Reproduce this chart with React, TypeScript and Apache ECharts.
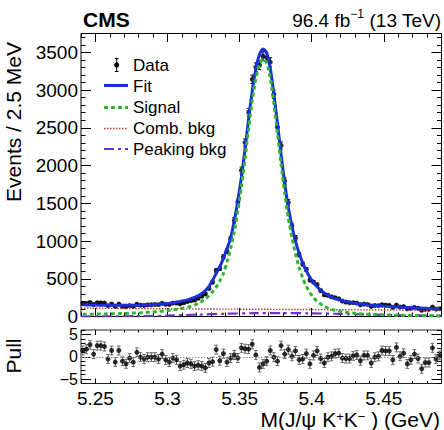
import React, { useEffect, useRef } from 'react';
import * as echarts from 'echarts';

const MASS_MIN = 5.24;
const MASS_MAX = 5.49;
const BIN_WIDTH = 0.0025;
const COUNT_MAX = 3750;

const xMajorTicks = [5.25, 5.3, 5.35, 5.4, 5.45];
const pullTicks = [-5, 0, 5];

const counts = [
  172, 175, 186, 159, 182, 181, 178, 143, 166, 133,
  165, 136, 129, 144, 134, 162, 150, 147, 154, 156,
  159, 157, 175, 162, 160, 178, 179, 168, 182, 199,
  210, 219, 242, 268, 299, 372, 456, 608, 637, 789,
  864, 1030, 1274, 1518, 1936, 2305, 2707, 3143, 3303, 3329,
  3450, 3431, 3370, 2945, 2509, 2266, 1795, 1511, 1203, 1041,
  820, 697, 622, 484, 456, 421, 343, 287, 280, 260,
  249, 234, 204, 191, 183, 183, 178, 155, 165, 160,
  134, 146, 144, 156, 151, 148, 122, 151, 125, 131,
  102, 109, 121, 109, 83, 95, 94, 125, 98, 104,
];

const fitValues = [
  155, 154, 153, 152, 151, 150, 150, 149, 149, 148,
  148, 148, 148, 148, 149, 150, 151, 153, 155, 157,
  160, 163, 167, 171, 176, 182, 189, 198, 208, 220,
  235, 252, 273, 305, 345, 400, 480, 570, 660, 770,
  900, 1040, 1260, 1530, 1850, 2220, 2620, 2990, 3280, 3470,
  3545, 3490, 3290, 2950, 2560, 2150, 1770, 1450, 1200, 1000,
  840, 710, 605, 520, 450, 395, 350, 312, 282, 258,
  238, 222, 208, 197, 188, 180, 173, 167, 161, 156,
  151, 147, 143, 139, 136, 133, 130, 127, 124, 122,
  119, 117, 115, 113, 111, 109, 107, 105, 103, 101,
];

const signalValues = [
  30, 30, 31, 31, 32, 33, 34, 35, 36, 37,
  38, 39, 41, 43, 45, 47, 49, 52, 55, 58,
  62, 66, 71, 76, 82, 88, 95, 103, 112, 122,
  135, 152, 172, 200, 235, 275, 330, 390, 470, 570,
  720, 900, 1120, 1400, 1720, 2090, 2490, 2860, 3150, 3340,
  3415, 3360, 3160, 2820, 2430, 2020, 1640, 1310, 1050, 830,
  650, 510, 400, 315, 250, 200, 165, 135, 112, 95,
  82, 71, 62, 55, 49, 44, 40, 36, 33, 30,
  28, 26, 24, 22, 21, 19, 18, 17, 16, 15,
  14, 13, 12, 12, 11, 10, 10, 9, 9, 8,
];

const pullValues = [
  1.4, 1.7, 2.7, 0.6, 2.5, 2.5, 2.3, -0.5, 1.4, -1.2,
  1.4, -1.0, -1.6, -0.3, -1.2, 1.0, -0.1, -0.5, -0.1, -0.1,
  -0.1, -0.5, 0.6, -0.7, -1.2, -0.3, -0.7, -2.1, -1.8, -1.4,
  -1.6, -2.1, -1.9, -2.1, -2.5, -1.4, -1.1, 1.6, -0.9, 0.7,
  -1.2, -0.3, 0.4, -0.3, 2.0, 1.8, 1.7, 2.8, 0.4, -2.4,
  -1.6, -1.0, 1.4, -0.1, -1.0, 2.5, 0.6, 1.6, 0.1, 1.3,
  -0.7, -0.5, 0.7, -1.6, 0.3, 1.3, -0.4, -1.4, -0.1, 0.1,
  0.7, 0.8, -0.3, -0.4, -0.4, 0.2, 0.4, -0.9, 0.3, 0.3,
  -1.4, -0.1, 0.1, 1.4, 1.3, 1.3, -0.7, 2.1, 0.1, 0.8,
  -1.6, -0.7, 0.6, -0.4, -2.7, -1.3, -1.3, 2.0, -0.5, 0.3,
];

const combMass = [5.24, 5.29, 5.34, 5.39, 5.44, 5.49];
const combValues = [110, 104, 98, 93, 87, 82];

const peakingMass = [5.24, 5.26, 5.28, 5.3, 5.32, 5.34, 5.36, 5.38, 5.4, 5.42, 5.44, 5.46, 5.48, 5.49];
const peakingValues = [0, 2, 5, 12, 24, 36, 44, 46, 42, 34, 26, 18, 12, 10];

const FONT = "'Liberation Sans', Arial, Helvetica, sans-serif";
const BLUE = '#1a2fd9';
const GREEN = '#2fb52f';
const RED = '#c0392b';
const PURPLE = '#6a32c8';

function tickAxis(
  grid: number,
  position: string,
  min: number,
  max: number,
  len: number,
  interval?: number,
  custom?: number[],
  label?: any,
) {
  const ax: any = {
    type: 'value',
    gridIndex: grid,
    position,
    min,
    max,
    axisLine: { show: false, onZero: false },
    splitLine: { show: false },
    axisTick: { show: true, inside: true, length: len, lineStyle: { color: '#000', width: 1 } },
    axisLabel: label ?? { show: false },
  };
  if (interval !== undefined) ax.interval = interval;
  if (custom) ax.axisTick.customValues = custom;
  return ax;
}

function errorBars(xIdx: number, yIdx: number, pts: number[][], color: string, cap: number, z: number) {
  return {
    type: 'custom',
    xAxisIndex: xIdx,
    yAxisIndex: yIdx,
    z,
    silent: true,
    clip: true,
    data: pts,
    encode: { x: 0, y: 1 },
    renderItem: (_params: any, api: any) => {
      const x = api.value(0);
      const y = api.value(1);
      const e = api.value(2);
      const a = api.coord([x, y - e]);
      const b = api.coord([x, y + e]);
      const st = { stroke: color, lineWidth: 1 };
      return {
        type: 'group',
        children: [
          { type: 'line', shape: { x1: a[0], y1: a[1], x2: b[0], y2: b[1] }, style: st },
          { type: 'line', shape: { x1: a[0] - cap, y1: a[1], x2: a[0] + cap, y2: a[1] }, style: st },
          { type: 'line', shape: { x1: b[0] - cap, y1: b[1], x2: b[0] + cap, y2: b[1] }, style: st },
        ],
      };
    },
  };
}

export default function App() {
  const ref = useRef<HTMLDivElement>(null);
  useEffect(() => {
    const chart = echarts.init(ref.current!, null, { renderer: 'svg' });
    const centers = counts.map((_, i) => +(MASS_MIN + BIN_WIDTH * (i + 0.5)).toFixed(5));
    const dataPts = centers.map((x, i) => [x, counts[i]]);
    const dataErr = centers.map((x, i) => [x, counts[i], Math.sqrt(counts[i])]);
    const pullPts = centers.map((x, i) => [x, pullValues[i]]);
    const pullErr = centers.map((x, i) => [x, pullValues[i], 1]);

    const yLabel = { show: true, fontSize: 19, lineHeight: 15, fontFamily: FONT, color: '#000', margin: 3,
      formatter: (v: number) => (v % 500 === 0 ? String(v) : '') };
    const xLabel = { show: true, fontSize: 19, lineHeight: 17, fontFamily: FONT, color: '#000', margin: 6,
      customValues: xMajorTicks, formatter: (v: number) => String(+v.toFixed(2)) };
    const pullLabel = { show: true, fontSize: 16, lineHeight: 14, fontFamily: FONT, color: '#000', margin: 3,
      customValues: pullTicks, formatter: (v: number) => (v < 0 ? '\u2212' + Math.abs(v) : String(v)) };

    const option: any = {
      animation: false,
      backgroundColor: '#fff',
      grid: [
        { left: 81, top: 33.5, width: 360.5, height: 283, show: true, borderColor: '#000', borderWidth: 1, backgroundColor: 'transparent' },
        { left: 81, top: 330, width: 360.5, height: 53.5, show: true, borderColor: '#222', borderWidth: 1, backgroundColor: 'transparent' },
      ],
      xAxis: [
        tickAxis(0, 'bottom', MASS_MIN, MASS_MAX, 4, 0.01),
        tickAxis(0, 'bottom', MASS_MIN, MASS_MAX, 8.5, undefined, xMajorTicks),
        tickAxis(0, 'top', MASS_MIN, MASS_MAX, 4, 0.01),
        tickAxis(0, 'top', MASS_MIN, MASS_MAX, 8.5, undefined, xMajorTicks),
        tickAxis(1, 'bottom', MASS_MIN, MASS_MAX, 2.5, 0.01),
        tickAxis(1, 'bottom', MASS_MIN, MASS_MAX, 5, undefined, xMajorTicks, xLabel),
        tickAxis(1, 'top', MASS_MIN, MASS_MAX, 2.5, 0.01),
        tickAxis(1, 'top', MASS_MIN, MASS_MAX, 5, undefined, xMajorTicks),
      ],
      yAxis: [
        tickAxis(0, 'left', 0, COUNT_MAX, 4.5, 100),
        tickAxis(0, 'left', 0, COUNT_MAX, 10, 500, undefined, yLabel),
        tickAxis(0, 'right', 0, COUNT_MAX, 4.5, 100),
        tickAxis(0, 'right', 0, COUNT_MAX, 10, 500),
        tickAxis(1, 'left', -6, 6, 4.5, 1),
        tickAxis(1, 'left', -6, 6, 10, undefined, pullTicks, pullLabel),
        tickAxis(1, 'right', -6, 6, 4.5, 1),
        tickAxis(1, 'right', -6, 6, 10, undefined, pullTicks),
      ],
      series: [
        errorBars(0, 0, dataErr, '#000', 1.8, 2),
        {
          type: 'scatter', xAxisIndex: 0, yAxisIndex: 0, z: 3, silent: true,
          data: dataPts, symbol: 'circle', symbolSize: 5, itemStyle: { color: '#000' },
        },
        {
          type: 'line', xAxisIndex: 0, yAxisIndex: 0, z: 4, silent: true,
          data: peakingMass.map((x, i) => [x, peakingValues[i]]), showSymbol: false, smooth: 0.3,
          lineStyle: { color: PURPLE, width: 2.2, type: [10, 4, 3, 4] },
        },
        {
          type: 'line', xAxisIndex: 0, yAxisIndex: 0, z: 4, silent: true,
          data: combMass.map((x, i) => [x, combValues[i]]), showSymbol: false, smooth: 0.3,
          lineStyle: { color: RED, width: 1.4, type: [1.5, 1.5] },
        },
        {
          type: 'line', xAxisIndex: 0, yAxisIndex: 0, z: 5, silent: true,
          data: centers.map((x, i) => [x, fitValues[i]]), showSymbol: false, smooth: 0.25,
          lineStyle: { color: BLUE, width: 3 },
        },
        {
          type: 'line', xAxisIndex: 0, yAxisIndex: 0, z: 6, silent: true,
          data: centers.map((x, i) => [x, signalValues[i]]), showSymbol: false, smooth: 0.25,
          lineStyle: { color: GREEN, width: 3, type: [4, 3] },
        },
        errorBars(4, 4, pullErr, '#666', 1.8, 2),
        {
          type: 'scatter', xAxisIndex: 4, yAxisIndex: 4, z: 3, silent: true,
          data: pullPts, symbol: 'circle', symbolSize: 5, itemStyle: { color: '#000' },
          markLine: {
            silent: true, symbol: 'none', label: { show: false },
            lineStyle: { color: '#888', type: [1.5, 1.5], width: 1 },
            data: [{ yAxis: 0 }],
          },
        },
      ],
      graphic: [
        { type: 'text', x: 83, y: 19, z: 10, style: { text: 'CMS', fontSize: 21, fontWeight: 'bold', fontFamily: FONT, fill: '#000', align: 'left', verticalAlign: 'middle' } },
        {
          type: 'text', x: 441, y: 20, z: 10,
          style: {
            text: '96.4 fb{sup|\u22121} (13 TeV)', fontSize: 19, fontFamily: FONT, fill: '#000', align: 'right', verticalAlign: 'middle', lineHeight: 24,
            rich: { sup: { fontSize: 12, fontFamily: FONT, fill: '#000', verticalAlign: 'top' } },
          },
        },
        {
          type: 'text', x: 440, y: 419.5, z: 10,
          style: {
            text: 'M(J/\u03c8 K{sup|+}K{sup|\u2212} ) (GeV)', fontSize: 21, fontFamily: FONT, fill: '#000', align: 'right', verticalAlign: 'middle', lineHeight: 20,
            rich: { sup: { fontSize: 13, lineHeight: 20, fontFamily: FONT, fill: '#000', verticalAlign: 'top' } },
          },
        },
        { type: 'text', x: 13, y: 42, rotation: Math.PI / 2, z: 10, style: { text: 'Events / 2.5 MeV', fontSize: 21, fontFamily: FONT, fill: '#000', align: 'right', verticalAlign: 'middle' } },
        { type: 'text', x: 13, y: 356, rotation: Math.PI / 2, z: 10, style: { text: 'Pull', fontSize: 21, fontFamily: FONT, fill: '#000', align: 'center', verticalAlign: 'middle' } },
        // legend
        { type: 'line', z: 10, shape: { x1: 116.7, y1: 58.5, x2: 116.7, y2: 71.5 }, style: { stroke: '#000', lineWidth: 1 } },
        { type: 'line', z: 10, shape: { x1: 114.9, y1: 58.5, x2: 118.5, y2: 58.5 }, style: { stroke: '#000', lineWidth: 1 } },
        { type: 'line', z: 10, shape: { x1: 114.9, y1: 71.5, x2: 118.5, y2: 71.5 }, style: { stroke: '#000', lineWidth: 1 } },
        { type: 'circle', z: 10, shape: { cx: 116.7, cy: 65, r: 2.6 }, style: { fill: '#000' } },
        { type: 'text', x: 133, y: 65, z: 10, style: { text: 'Data', fontSize: 17, fontFamily: FONT, fill: '#000', verticalAlign: 'middle' } },
        { type: 'line', z: 10, shape: { x1: 104, y1: 85.5, x2: 128, y2: 85.5 }, style: { stroke: BLUE, lineWidth: 3 } },
        { type: 'text', x: 133, y: 86, z: 10, style: { text: 'Fit', fontSize: 17, fontFamily: FONT, fill: '#000', verticalAlign: 'middle' } },
        { type: 'line', z: 10, shape: { x1: 104, y1: 107.5, x2: 128, y2: 107.5 }, style: { stroke: GREEN, lineWidth: 3, lineDash: [4, 3] } },
        { type: 'text', x: 133, y: 107, z: 10, style: { text: 'Signal', fontSize: 17, fontFamily: FONT, fill: '#000', verticalAlign: 'middle' } },
        { type: 'line', z: 10, shape: { x1: 104, y1: 128.5, x2: 128, y2: 128.5 }, style: { stroke: RED, lineWidth: 1.4, lineDash: [1.5, 1.5] } },
        { type: 'text', x: 133, y: 128.5, z: 10, style: { text: 'Comb. bkg', fontSize: 17, fontFamily: FONT, fill: '#000', verticalAlign: 'middle' } },
        { type: 'line', z: 10, shape: { x1: 104, y1: 149, x2: 128, y2: 149 }, style: { stroke: PURPLE, lineWidth: 2.2, lineDash: [10, 4, 3, 4] } },
        { type: 'text', x: 133, y: 149, z: 10, style: { text: 'Peaking bkg', fontSize: 17, fontFamily: FONT, fill: '#000', verticalAlign: 'middle' } },
      ],
    };
    chart.setOption(option);
    return () => chart.dispose();
  }, []);
  return <div ref={ref} style={{ position: 'fixed', left: 0, top: 0, width: 444, height: 430, background: '#fff' }} />;
}
